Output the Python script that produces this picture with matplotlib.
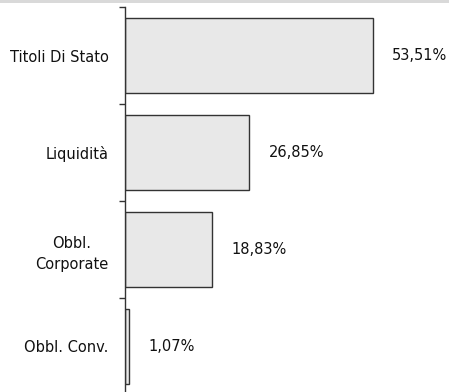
import matplotlib
matplotlib.use("Agg")
import matplotlib.pyplot as plt
from matplotlib.patches import Rectangle

categories = ["Titoli Di Stato", "Liquidità", "Obbl.\nCorporate", "Obbl. Conv."]
values = [53.51, 26.85, 18.83, 1.07]
value_labels = ["53,51%", "26,85%", "18,83%", "1,07%"]

W, H = 449, 392
fig = plt.figure(figsize=(W / 100, H / 100), dpi=100)
fig.patches.append(Rectangle((0, 1 - 3 / H), 1, 3 / H, transform=fig.transFigure,
                             facecolor="#d9d9d9", edgecolor="none", zorder=0))

ax = fig.add_axes([124.5 / W, -3 / H, (W - 124.5) / W, 388 / H])
ax.set_facecolor("none")

n = len(categories)
ypos = list(range(n))
ax.barh(ypos, values, height=0.77, color="#e8e8e8", edgecolor="#333333", linewidth=1.0)
ax.set_ylim(n - 0.5, -0.5)
ax.set_xlim(0, (W - 124.5) / 4.64)

ax.set_yticks([i - 0.5 for i in range(n + 1)], minor=False)
ax.set_yticklabels([])
ax.set_yticks(ypos, minor=True)
ax.set_yticklabels(categories, minor=True, fontsize=10.5, color="#111111")
for lbl in ax.get_yticklabels(minor=True):
    lbl.set_multialignment("center")
    lbl.set_linespacing(1.5)
ax.tick_params(axis="y", which="major", length=4, width=1, color="#333333", direction="out")
ax.tick_params(axis="y", which="minor", length=0, pad=11.5)
ax.set_xticks([])

for s in ["top", "right", "bottom"]:
    ax.spines[s].set_visible(False)
ax.spines["left"].set_color("#333333")
ax.spines["left"].set_linewidth(1.0)

for y, v, t in zip(ypos, values, value_labels):
    ax.annotate(t, xy=(v, y), xytext=(14.0, 0), textcoords="offset points",
                ha="left", va="center", fontsize=10.5, color="#111111")

fig.savefig("out.png", dpi=100)
